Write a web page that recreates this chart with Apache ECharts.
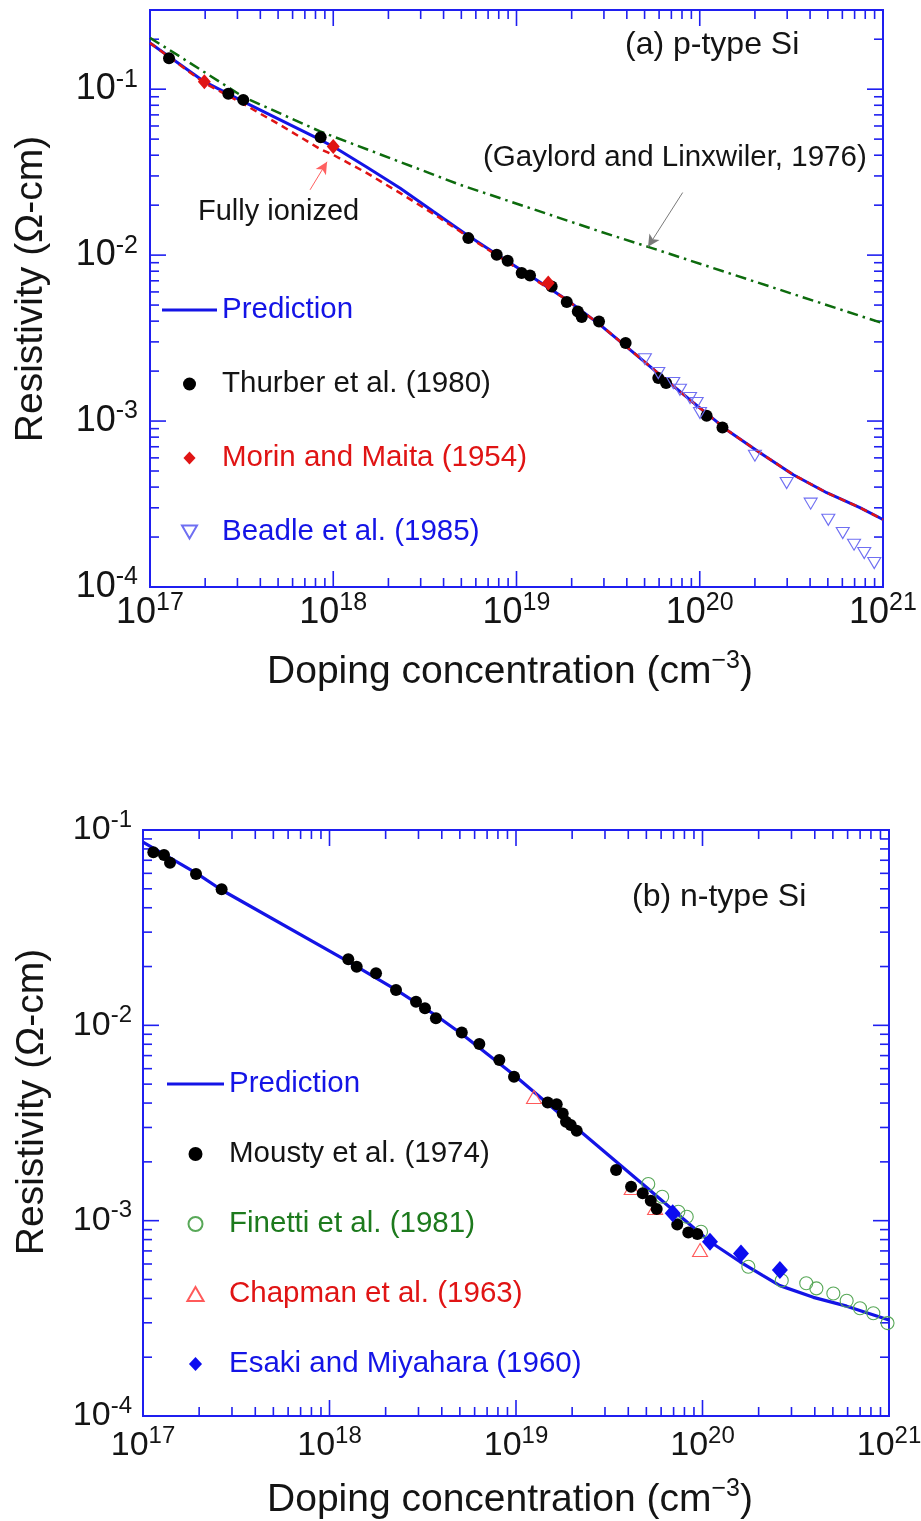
<!DOCTYPE html>
<html>
<head>
<meta charset="utf-8">
<script src="https://cdn.jsdelivr.net/npm/echarts@6/dist/echarts.min.js"></script>
<style>
  html, body { margin: 0; padding: 0; background: #ffffff; }
  #chart { width: 921px; height: 1521px; }
</style>
</head>
<body>
<div id="chart"></div>
<script>
// ---------- (a) p-type Si : doping (cm^-3) vs resistivity (ohm-cm) ----------
const pPrediction = [
  [1e17, 0.190], [1.98e17, 0.111], [3.23e17, 0.0842], [8.48e17, 0.0496], [1e18, 0.0451],
  [1.52e18, 0.0340], [2.31e18, 0.0254], [3.52e18, 0.0183], [5.35e18, 0.01325], [8.13e18, 0.00981],
  [1.24e19, 0.00727], [1.88e19, 0.00538], [2.86e19, 0.00380], [3.99e19, 0.00280], [6.07e19, 0.00190],
  [9.23e19, 0.00129], [1.40e20, 0.000887], [2.13e20, 0.000645], [3.24e20, 0.000475],
  [4.93e20, 0.000370], [7.48e20, 0.000301], [1e21, 0.000255]
];
const pFullyIonized = [
  [1e17, 0.190], [1.98e17, 0.109], [3.23e17, 0.0815], [5.12e17, 0.0609], [8.48e17, 0.0436],
  [1e18, 0.0402], [1.52e18, 0.0313], [2.31e18, 0.0237], [3.52e18, 0.01774], [5.35e18, 0.01306],
  [8.13e18, 0.00970], [1.24e19, 0.00719], [1.88e19, 0.00538], [2.86e19, 0.00380], [3.99e19, 0.00280],
  [6.07e19, 0.00190], [9.23e19, 0.00129], [1.40e20, 0.000887], [2.13e20, 0.000645],
  [3.24e20, 0.000475], [4.93e20, 0.000370], [7.48e20, 0.000301], [1e21, 0.000255]
];
const pGaylord = [
  [1e17, 0.2037], [1.274e17, 0.1726], [3.23e17, 0.0899], [8.48e17, 0.0556],
  [4.92e18, 0.02654], [2.86e19, 0.01387], [5.22e19, 0.01122], [1e21, 0.00388]
];
const pThurber = [
  [1.27e17, 0.1537], [2.675e17, 0.0937], [3.228e17, 0.0862], [8.54e17, 0.0514],
  [5.46e18, 0.01266], [7.80e18, 0.01004], [8.95e18, 0.00924], [1.067e19, 0.00779],
  [1.185e19, 0.00754], [1.556e19, 0.00647], [1.88e19, 0.00521], [2.16e19, 0.00457],
  [2.27e19, 0.00423], [2.82e19, 0.00398], [3.94e19, 0.00295], [5.94e19, 0.001816],
  [6.55e19, 0.001694], [1.09e20, 0.001076], [1.33e20, 0.000915]
];
const pMorin = [[1.98e17, 0.111], [1.0e18, 0.0451], [1.49e19, 0.00678]];
const pBeadle = [
  [5.02e19, 0.00236], [5.94e19, 0.001946], [7.17e19, 0.001694], [7.80e19, 0.001543],
  [8.85e19, 0.001376], [9.62e19, 0.001284], [1.003e20, 0.001117], [2.00e20, 0.000618],
  [2.98e20, 0.000423], [4.03e20, 0.000318], [5.03e20, 0.000254], [6.03e20, 0.0002115],
  [6.95e20, 0.0001798], [7.90e20, 0.0001602], [8.96e20, 0.0001395]
];

// ---------- (b) n-type Si ----------
const nPrediction = [
  [1e17, 0.0868], [1.94e17, 0.0600], [2.64e17, 0.0493], [1.261e18, 0.02117], [2.29e18, 0.01516],
  [3.76e18, 0.01116], [5.12e18, 0.00903], [9.76e18, 0.00557], [2.204e19, 0.002876],
  [5.02e19, 0.001477], [1.097e20, 0.00078], [1.589e20, 0.000616], [2.10e20, 0.000525],
  [2.60e20, 0.000465], [3.93e20, 0.000405], [5.93e20, 0.000365], [1e21, 0.00031]
];
const nMousty = [
  [1.136e17, 0.0769], [1.296e17, 0.0745], [1.396e17, 0.068], [1.924e17, 0.0595], [2.64e17, 0.0497],
  [1.261e18, 0.02178], [1.399e18, 0.01995], [1.776e18, 0.01846], [2.273e18, 0.01516],
  [2.91e18, 0.0132], [3.25e18, 0.01222], [3.72e18, 0.01086], [5.12e18, 0.0092], [6.36e18, 0.00802],
  [8.14e18, 0.00665], [9.76e18, 0.00546], [1.479e19, 0.00403], [1.653e19, 0.00394],
  [1.780e19, 0.00354], [1.854e19, 0.00321], [1.965e19, 0.00309], [2.116e19, 0.00289],
  [3.44e19, 0.001816], [4.14e19, 0.001491], [4.78e19, 0.00138], [5.28e19, 0.001264],
  [5.68e19, 0.001147], [7.32e19, 0.000957], [8.39e19, 0.000871], [9.38e19, 0.000854]
];
const nFinetti = [
  [5.12e19, 0.00154], [6.08e19, 0.001326], [7.42e19, 0.001111], [8.23e19, 0.001047],
  [9.82e19, 0.000877], [1.761e20, 0.000581], [2.66e20, 0.000494], [3.60e20, 0.000478],
  [4.08e20, 0.00045], [5.03e20, 0.000424], [5.93e20, 0.000389], [6.99e20, 0.000356],
  [8.24e20, 0.000336], [9.82e20, 0.000299]
];
const nChapman = [[1.249e19, 0.00430], [4.17e19, 0.001468], [5.57e19, 0.00116], [9.70e19, 0.000707]];
const nEsaki = [[6.92e19, 0.00109], [1.097e20, 0.00078], [1.608e20, 0.00068], [2.60e20, 0.000559]];

// annotation arrows (tail, head) in data coordinates
const ionizedArrow = [[7.47e17, 0.02474], [9.25e17, 0.0365]];
const gaylordArrow = [[8.07e19, 0.02383], [5.22e19, 0.01122]];

// axis ranges and tick decades
const xRange = [1e17, 1e21];
const yRangeP = [1e-4, 0.3];
const yRangeN = [1e-4, 1e-1];
const mantissas = [1, 2, 3, 4, 5, 6, 7, 8, 9];
const xDecades = [17, 18, 19, 20, 21];
const yDecadesP = [-4, -3, -2, -1];
const yDecadesN = [-4, -3, -2, -1];

const FONT = '"Liberation Sans", Arial, Helvetica, sans-serif';
const AXIS_BLUE = '#1f1ff0';
const BLUE = '#1414e6';
const RED = '#e01414';
const GREEN = '#0d6b0d';
const TXT = '#141414';

// marker shapes
const invTriangle = 'path://M0,0 L12,0 L6,10.4 Z';
const upTriangle = 'path://M6,0 L12,10.4 L0,10.4 Z';
const diamond = 'path://M6,0 L12,7 L6,14 L0,7 Z';
const legendDiamond = 'path://M7,0 L14,7.5 L7,15 L0,7.5 Z';
const lineIcon = 'path://M0,0 L55,0 L55,3 L0,3 Z';

function isPow10(v) {
  const l = Math.log10(v);
  return Math.abs(l - Math.round(l)) < 1e-6;
}
// tick values between two limits (1..9 x 10^n)
function tickValues(decades, lo, hi) {
  const out = [];
  decades.forEach(function (e) {
    mantissas.forEach(function (m) {
      const v = m * Math.pow(10, e);
      if (v >= lo * 0.9999 && v <= hi * 1.0001) out.push(v);
    });
  });
  return out;
}
function tickData(xr, yr, yDec) {
  const d = [];
  tickValues(xDecades, xr[0], xr[1]).forEach(function (v) { d.push([v, yr[0], isPow10(v) ? 1 : 0, 0]); });
  tickValues(yDec, yr[0], yr[1]).forEach(function (v) { d.push([xr[0], v, isPow10(v) ? 1 : 0, 1]); });
  return d;
}
function renderTick(params, api) {
  const cs = params.coordSys;
  const len = api.value(2) === 1 ? 16 : 9;
  const style = { stroke: AXIS_BLUE, lineWidth: 1.6 };
  const p = api.coord([api.value(0), api.value(1)]);
  if (api.value(3) === 0) {
    const yb = cs.y + cs.height, yt = cs.y;
    return { type: 'group', children: [
      { type: 'line', shape: { x1: p[0], y1: yb, x2: p[0], y2: yb - len }, style: style },
      { type: 'line', shape: { x1: p[0], y1: yt, x2: p[0], y2: yt + len }, style: style }
    ] };
  }
  const xl = cs.x, xr = cs.x + cs.width;
  return { type: 'group', children: [
    { type: 'line', shape: { x1: xl, y1: p[1], x2: xl + len, y2: p[1] }, style: style },
    { type: 'line', shape: { x1: xr, y1: p[1], x2: xr - len, y2: p[1] }, style: style }
  ] };
}

function powLabel(v) {
  if (!isPow10(v)) return '';
  return '{b|10}{s|' + Math.round(Math.log10(v)) + '}';
}
function labelRich(base, sup) {
  return {
    b: { fontFamily: FONT, fontSize: base, lineHeight: 44, color: TXT },
    s: { fontFamily: FONT, fontSize: sup, lineHeight: 16, verticalAlign: 'top', color: TXT }
  };
}
function axisLabelCfg(margin, fs, sfs) {
  return { formatter: powLabel, fontFamily: FONT, fontSize: fs, color: TXT,
    rich: labelRich(fs, sfs), margin: margin, interval: 0, hideOverlap: false };
}
function xAxisCfg(grid, margin, fs, sfs) {
  return {
    type: 'log', logBase: 10, gridIndex: grid, min: xRange[0], max: xRange[1],
    axisLine: { show: false }, axisTick: { show: false }, splitLine: { show: false },
    axisLabel: axisLabelCfg(margin, fs, sfs)
  };
}
function yAxisCfg(grid, range, margin, fs, sfs) {
  return {
    type: 'log', logBase: 10, gridIndex: grid, min: range[0], max: range[1],
    axisLine: { show: false }, axisTick: { show: false }, splitLine: { show: false },
    axisLabel: axisLabelCfg(margin, fs, sfs)
  };
}

function lineSeries(name, data, grid, color, width, type, z) {
  return {
    name: name, type: 'line', xAxisIndex: grid, yAxisIndex: grid, data: data,
    showSymbol: false, symbol: 'none', smooth: false, z: z,
    lineStyle: { color: color, width: width, type: type }, itemStyle: { color: color }
  };
}
function scatterSeries(name, data, grid, symbol, size, itemStyle, z) {
  itemStyle.opacity = 1;
  return {
    name: name, type: 'scatter', xAxisIndex: grid, yAxisIndex: grid, data: data,
    symbol: symbol, symbolSize: size, itemStyle: itemStyle, z: z
  };
}

const gaylordSeries = lineSeries('Gaylord and Linxwiler', pGaylord, 0, GREEN, 2.5, [11, 5, 2.5, 5], 3);
gaylordSeries.markLine = {
  silent: true, symbol: ['none', 'arrow'], symbolSize: [9, 12], animation: false,
  label: { show: false },
  data: [
    [{ coord: ionizedArrow[0], lineStyle: { color: '#ff6060', width: 1, type: 'solid' } },
     { coord: ionizedArrow[1] }],
    [{ coord: gaylordArrow[0], lineStyle: { color: '#7a7a7a', width: 1, type: 'solid' } },
     { coord: gaylordArrow[1] }]
  ]
};

const legendText = { fontFamily: FONT, fontSize: 29.5, lineHeight: 30 };

const option = {
  backgroundColor: '#ffffff',
  animation: false,
  grid: [
    { left: 150, top: 10, width: 733, height: 577, show: true, borderColor: AXIS_BLUE, borderWidth: 2,
      outerBoundsMode: 'none', containLabel: false },
    { left: 143, top: 830, width: 746, height: 586, show: true, borderColor: AXIS_BLUE, borderWidth: 2,
      outerBoundsMode: 'none', containLabel: false }
  ],
  xAxis: [xAxisCfg(0, 4, 36, 25), xAxisCfg(1, 8, 34, 24)],
  yAxis: [yAxisCfg(0, yRangeP, 12, 36, 25), yAxisCfg(1, yRangeN, 11, 34, 24)],
  legend: [
    {
      orient: 'vertical', left: 157, top: 290, itemWidth: 55, itemHeight: 13, itemGap: 44,
      selectedMode: false, textStyle: legendText,
      data: [
        { name: 'Prediction', icon: lineIcon, textStyle: { color: BLUE } },
        { name: 'Thurber et al. (1980)', textStyle: { color: TXT } },
        { name: 'Morin and Maita (1954)', icon: legendDiamond, textStyle: { color: RED } },
        { name: 'Beadle et al. (1985)', textStyle: { color: BLUE } }
      ]
    },
    {
      orient: 'vertical', left: 162, top: 1064, itemWidth: 57, itemHeight: 14, itemGap: 40,
      selectedMode: false, textStyle: legendText,
      data: [
        { name: 'Prediction', icon: lineIcon, textStyle: { color: BLUE } },
        { name: 'Mousty et al. (1974)', textStyle: { color: TXT } },
        { name: 'Finetti et al. (1981)', textStyle: { color: '#1d7a1d' } },
        { name: 'Chapman et al. (1963)', textStyle: { color: RED } },
        { name: 'Esaki and Miyahara (1960)', icon: legendDiamond, textStyle: { color: BLUE } }
      ]
    }
  ],
  series: [
    { type: 'custom', name: 'ticks-a', xAxisIndex: 0, yAxisIndex: 0, silent: true, z: 1,
      encode: { x: 0, y: 1 }, data: tickData(xRange, yRangeP, yDecadesP), renderItem: renderTick },
    { type: 'custom', name: 'ticks-b', xAxisIndex: 1, yAxisIndex: 1, silent: true, z: 1,
      encode: { x: 0, y: 1 }, data: tickData(xRange, yRangeN, yDecadesN), renderItem: renderTick },

    gaylordSeries,
    lineSeries('Prediction', pPrediction, 0, BLUE, 3, 'solid', 4),
    lineSeries('Fully ionized', pFullyIonized, 0, RED, 2.5, [7, 5], 5),
    scatterSeries('Thurber et al. (1980)', pThurber, 0, 'circle', 12, { color: '#000000' }, 6),
    scatterSeries('Morin and Maita (1954)', pMorin, 0, diamond, [13, 15], { color: RED }, 7),
    scatterSeries('Beadle et al. (1985)', pBeadle, 0, invTriangle, [13, 11],
      { color: 'rgba(255,255,255,0)', borderColor: '#6f6ff2', borderWidth: 1.1 }, 6),

    lineSeries('Prediction', nPrediction, 1, BLUE, 3.2, 'solid', 4),
    scatterSeries('Mousty et al. (1974)', nMousty, 1, 'circle', 12, { color: '#000000' }, 6),
    scatterSeries('Finetti et al. (1981)', nFinetti, 1, 'circle', 13,
      { color: 'rgba(255,255,255,0)', borderColor: '#58a858', borderWidth: 1.1 }, 5),
    scatterSeries('Chapman et al. (1963)', nChapman, 1, upTriangle, [15, 13],
      { color: 'rgba(255,255,255,0)', borderColor: '#ff5a5a', borderWidth: 1.1 }, 5),
    scatterSeries('Esaki and Miyahara (1960)', nEsaki, 1, diamond, [16, 18], { color: '#0c0cf0' }, 7)
  ],
  graphic: [
    { type: 'text', left: 625, top: 29, silent: true,
      style: { text: '(a) p-type Si', font: '32px ' + FONT, fill: TXT } },
    { type: 'text', left: 483, top: 143, silent: true,
      style: { text: '(Gaylord and Linxwiler, 1976)', font: '29.5px ' + FONT, fill: TXT } },
    { type: 'text', left: 198, top: 197, silent: true,
      style: { text: 'Fully ionized', font: '29px ' + FONT, fill: TXT } },
    { type: 'text', left: 632, top: 881, silent: true,
      style: { text: '(b) n-type Si', font: '32px ' + FONT, fill: TXT } },
    // axis titles
    { type: 'text', x: 510, y: 672, silent: true,
      style: { text: '{t|Doping concentration (cm}{s|−3}{t|)}', align: 'center', verticalAlign: 'middle',
        rich: { t: { fontFamily: FONT, fontSize: 39, lineHeight: 46, fill: TXT, color: TXT },
                s: { fontFamily: FONT, fontSize: 25, lineHeight: 16, verticalAlign: 'top', fill: TXT, color: TXT } } } },
    { type: 'text', x: 510, y: 1500, silent: true,
      style: { text: '{t|Doping concentration (cm}{s|−3}{t|)}', align: 'center', verticalAlign: 'middle',
        rich: { t: { fontFamily: FONT, fontSize: 39, lineHeight: 46, fill: TXT, color: TXT },
                s: { fontFamily: FONT, fontSize: 25, lineHeight: 16, verticalAlign: 'top', fill: TXT, color: TXT } } } },
    { type: 'text', x: 31, y: 289, rotation: Math.PI / 2, silent: true,
      style: { text: 'Resistivity (Ω-cm)', font: '39px ' + FONT, fill: TXT, align: 'center', verticalAlign: 'middle' } },
    { type: 'text', x: 32, y: 1102, rotation: Math.PI / 2, silent: true,
      style: { text: 'Resistivity (Ω-cm)', font: '39px ' + FONT, fill: TXT, align: 'center', verticalAlign: 'middle' } }
  ]
};

const chart = echarts.init(document.getElementById('chart'), null, { renderer: 'canvas' });
chart.setOption(option);
</script>
</body>
</html>
